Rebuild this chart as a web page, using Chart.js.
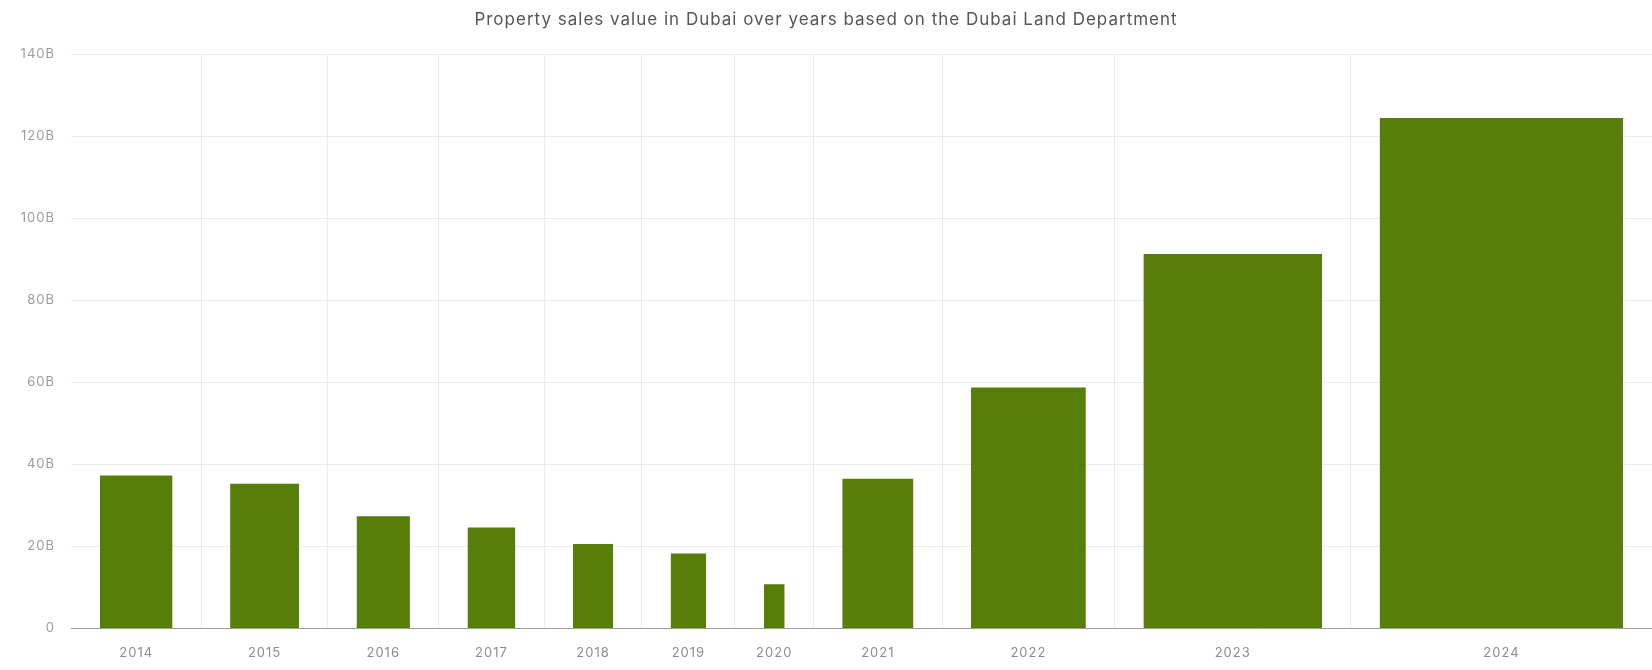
<!DOCTYPE html>
<html><head><meta charset="utf-8">
<script src="https://cdn.jsdelivr.net/npm/chart.js@4/dist/chart.umd.min.js"></script>
<style>html,body{margin:0;padding:0;background:#fff}#wrap{width:1652px;height:670px;position:relative}</style>
</head><body><div id="wrap"><canvas id="c"></canvas></div>
<script>
// ---- data ----
const years = ['2014','2015','2016','2017','2018','2019','2020','2021','2022','2023','2024'];
const salesValueB = [37.2, 35.2, 27.3, 24.5, 20.5, 18.2, 10.7, 36.4, 58.7, 91.3, 124.5];
const yTicks = [0, 20, 40, 60, 80, 100, 120, 140];
const titleText = 'Property sales value in Dubai over years based on the Dubai Land Department';

// ---- layout constant: spacing between bars, in value units (bar width is proportional to value) ----
const GAP = 29.4;
const lefts = [], rights = [], centers = [], bounds = [0];
let cum = 0;
salesValueB.forEach(v => {
  const l = cum + GAP / 2;
  lefts.push(l); rights.push(l + v); centers.push(l + v / 2);
  cum += v + GAP; bounds.push(cum);
});
const total = cum;

const FONT = "Inter, 'Open Sans', 'Liberation Sans', sans-serif";
const GREEN = '#587e0a';

const datasets = salesValueB.map((v, i) => ({
  label: years[i],
  data: [{x: lefts[i], y: v}, {x: rights[i], y: v}],
  fill: 'origin',
  backgroundColor: GREEN,
  borderColor: 'rgba(0,0,0,0)',
  borderWidth: 1,
  pointRadius: 0,
  pointHoverRadius: 0,
  tension: 0
}));

const spacingPlugin = {
  id: 'spacing',
  beforeDraw(chart) { if ('letterSpacing' in chart.ctx) chart.ctx.letterSpacing = '1px'; },
  afterDraw(chart) { if ('letterSpacing' in chart.ctx) chart.ctx.letterSpacing = '0px'; }
};

new Chart(document.getElementById('c'), {
  type: 'line',
  data: {datasets},
  plugins: [spacingPlugin],
  options: {
    responsive: true,
    maintainAspectRatio: false,
    animation: false,
    events: [],
    layout: {padding: {left: 0, right: 0, top: 0, bottom: 0}},
    plugins: {
      legend: {display: false},
      tooltip: {enabled: false},
      title: {
        display: true, text: titleText, color: '#555',
        font: {family: FONT, size: 17, weight: 'normal', lineHeight: 1.2},
        padding: {top: 10, bottom: 24}
      }
    },
    scales: {
      x: {
        type: 'linear', min: 0, max: total, position: 'bottom',
        afterBuildTicks: s => { s.ticks = centers.map(v => ({value: v})); },
        afterFit: s => { s.height = 42; },
        grid: {display: false, drawTicks: false},
        border: {display: true, color: '#9c9c9c', width: 1},
        ticks: {autoSkip: false, maxRotation: 0, padding: 17, color: '#8c8c8c',
          font: {family: FONT, size: 13, lineHeight: 1.2}, callback: (v, i) => years[i]}
      },
      xg: {
        type: 'linear', min: 0, max: total, position: 'top',
        afterBuildTicks: s => { s.ticks = bounds.map(v => ({value: v})); },
        afterFit: s => { s.height = 0; },
        ticks: {display: false},
        grid: {drawTicks: false, color: c => (c.index === 0 || c.index === bounds.length - 1) ? 'rgba(0,0,0,0)' : '#ebebeb'},
        border: {display: false}
      },
      y: {
        min: 0, max: 140,
        afterBuildTicks: s => { s.ticks = yTicks.map(v => ({value: v})); },
        afterFit: s => { s.width = 71; },
        grid: {color: c => c.index === 0 ? 'rgba(0,0,0,0)' : '#ebebeb', drawTicks: false},
        border: {display: false},
        ticks: {padding: 16, color: '#9c9c9c', font: {family: FONT, size: 13},
          callback: v => v === 0 ? '0' : v + 'B'}
      }
    }
  }
});
</script>
</body></html>
